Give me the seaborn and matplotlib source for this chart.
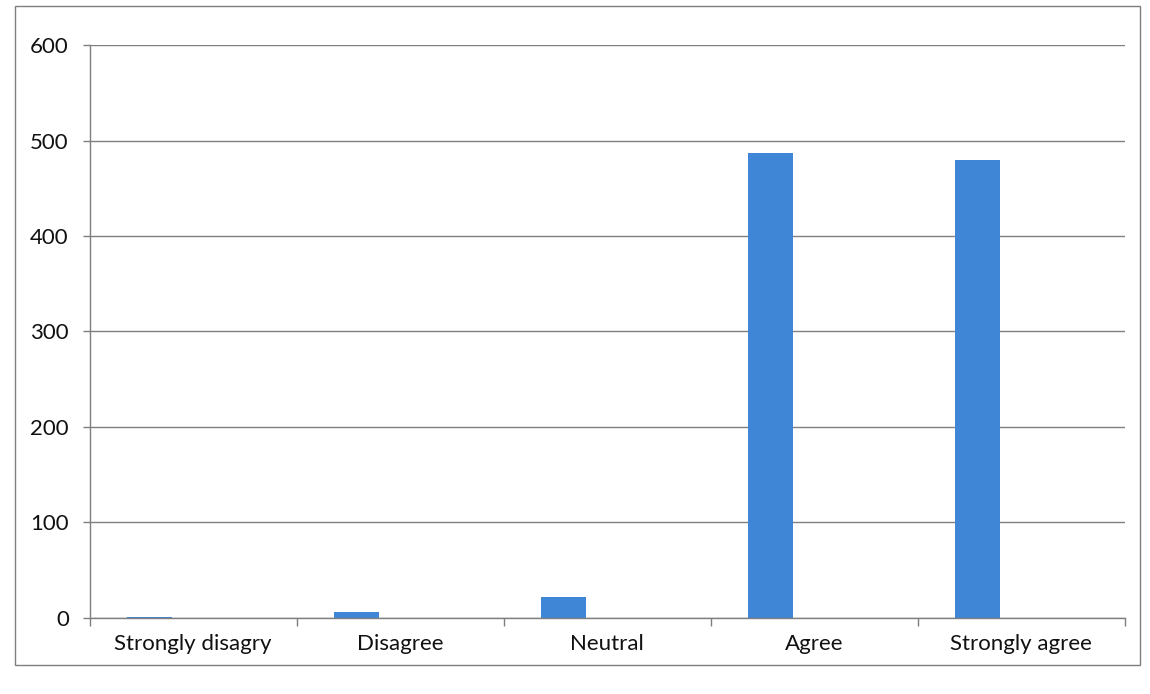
import pandas as pd
import numpy as np
from matplotlib import pyplot as plt
from matplotlib.patches import Rectangle
import seaborn as sns

# Survey responses
categories = ["Strongly disagry", "Disagree", "Neutral", "Agree", "Strongly agree"]
counts = [1, 6, 22, 487, 480]

# Excel left a second (empty) series slot, so bars sit left of each category centre
df = pd.DataFrame({
    "response": categories * 2,
    "count": counts + [np.nan] * len(counts),
    "series": ["Responses"] * len(counts) + ["empty"] * len(counts),
})

sns.set_style("white")
plt.rcParams["font.family"] = ["Lato", "DejaVu Sans"]

fig = plt.figure(figsize=(11.5, 6.94), dpi=100)
ax = fig.add_axes([0.078, 0.11, 0.9, 0.825])

sns.barplot(data=df, x="response", y="count", hue="series", order=categories,
            palette=["#3f86d6", "#3f86d6"], saturation=1, width=0.84, gap=0.48,
            linewidth=0, legend=False, ax=ax)

ax.set_ylim(0, 600)
ax.set_yticks(range(0, 601, 100))
ax.set_xlim(-0.5, len(categories) - 0.5)
ax.set_xlabel("")
ax.set_ylabel("")

# gridlines + axes in grey, like the Excel original
ax.yaxis.grid(True, color="#7f7f7f", linewidth=1)
ax.set_axisbelow(True)
for side in ["top", "right"]:
    ax.spines[side].set_visible(False)
for side in ["left", "bottom"]:
    ax.spines[side].set_color("#7f7f7f")
    ax.spines[side].set_linewidth(1)

# category separators as tick marks on the x axis
ax.set_xticks(np.arange(-0.5, len(categories)), minor=True)
ax.tick_params(axis="x", which="major", bottom=True, length=0, pad=12, labelsize=16, colors="#111111")
ax.tick_params(axis="x", which="minor", bottom=True, length=6, width=1, color="#7f7f7f", direction="out")
ax.tick_params(axis="y", left=True, length=5, width=1, color="#7f7f7f", pad=10, labelsize=16, labelcolor="#111111")

# chart border
fig.patches.append(Rectangle((0.013, 0.042), 0.978, 0.95, transform=fig.transFigure,
                             fill=False, edgecolor="#7f7f7f", linewidth=1))

plt.savefig("out.png", dpi=100)
